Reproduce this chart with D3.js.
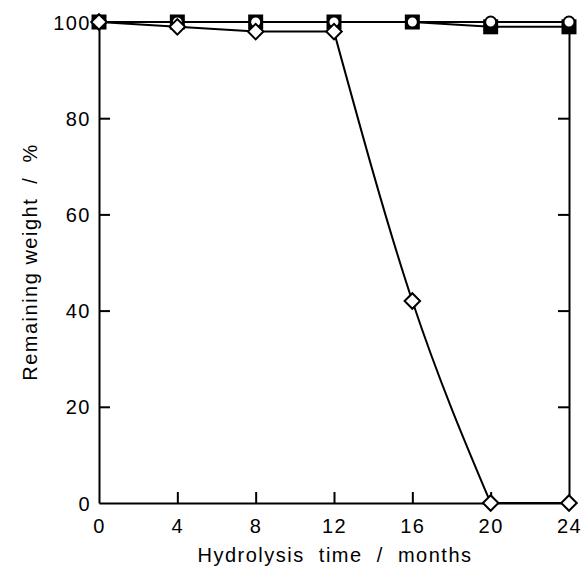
<!DOCTYPE html>
<html>
<head>
<meta charset="utf-8">
<script src="https://cdn.jsdelivr.net/npm/d3@7"></script>
<style>
  body { margin: 0; background: #fff; }
  text { font-family: "Liberation Sans", Arial, sans-serif; fill: #000; }
</style>
</head>
<body>
<script>
// chart data
var months = [0, 4, 8, 12, 16, 20, 24];
var squareValues = [100, 100, 100, 100, 100, 99, 99];
var circleValues = [100, 100, 100, 100, 100, 100, 100];
var diamondValues = [100, 99, 98, 98, 42, 0, 0];
var xTicks = [0, 4, 8, 12, 16, 20, 24];
var yTicks = [0, 20, 40, 60, 80, 100];

var width = 584;
var height = 578;
var plotLeft = 99, plotRight = 569, plotTop = 22, plotBottom = 503;

var svg = d3.select("body")
            .append("svg")
            .attr("width", width)
            .attr("height", height);

var x = d3.scaleLinear().domain([0, 24]).range([plotLeft, plotRight]);
var y = d3.scaleLinear().domain([0, 100]).range([plotBottom, plotTop]);

// axes, ticks point inward
var xAxis = d3.axisBottom(x).tickValues(xTicks).tickSize(-11).tickSizeOuter(0);
var yAxis = d3.axisLeft(y).tickValues(yTicks).tickSize(-11).tickSizeOuter(0);
var yAxisRight = d3.axisRight(y).tickValues(yTicks).tickSize(-11).tickSizeOuter(0).tickFormat("");

var gx = svg.append("g")
   .attr("transform", "translate(0," + plotBottom + ")")
   .call(xAxis);
var gy = svg.append("g")
   .attr("transform", "translate(" + plotLeft + ",0)")
   .call(yAxis);
var gr = svg.append("g")
   .attr("transform", "translate(" + plotRight + ",0)")
   .call(yAxisRight);

[gx, gy, gr].forEach(function(g) {
  g.select(".domain").attr("stroke", "#000").attr("stroke-width", 2);
  g.selectAll(".tick line").attr("stroke", "#000").attr("stroke-width", 2);
  g.selectAll(".tick text")
   .style("font-size", "20px")
   .style("letter-spacing", "1.5px")
   .style("font-family", "'Liberation Sans', Arial, sans-serif");
});
// hide end ticks that sit on the frame
gx.selectAll(".tick").filter(function(d) { return d == 0 || d == 24; }).select("line").remove();
gy.selectAll(".tick").filter(function(d) { return d == 0 || d == 100; }).select("line").remove();
gr.selectAll(".tick").filter(function(d) { return d == 0 || d == 100; }).select("line").remove();
gx.selectAll(".tick text").attr("y", 30).attr("dy", "0").attr("x", 0);
gy.selectAll(".tick text").attr("x", -8).attr("dy", "0.35em");

// axis titles
svg.append("text")
   .attr("text-anchor", "middle")
   .attr("transform", "translate(335,562)")
   .style("font-size", "20px")
   .style("letter-spacing", "1.5px")
   .style("white-space", "pre")
   .attr("xml:space", "preserve")
   .text("Hydrolysis  time  /  months");

svg.append("text")
   .attr("text-anchor", "middle")
   .attr("transform", "translate(37,262)rotate(-90)")
   .style("font-size", "20px")
   .style("letter-spacing", "1.5px")
   .style("white-space", "pre")
   .attr("xml:space", "preserve")
   .text("Remaining weight  /  %");

function points(values) {
  return months.map(function(m, i) { return [m, values[i]]; });
}

var straight = d3.line()
                 .x(function(d) { return x(d[0]); })
                 .y(function(d) { return y(d[1]); });
var smooth = d3.line()
               .curve(d3.curveNatural)
               .x(function(d) { return x(d[0]); })
               .y(function(d) { return y(d[1]); });

function addLine(d) {
  svg.append("path")
     .attr("d", d)
     .attr("fill", "none")
     .attr("stroke", "#000")
     .attr("stroke-width", 2)
     .attr("stroke-linejoin", "round");
}

// lines
addLine(straight(points(squareValues)));
addLine(straight(points(circleValues)));
// diamond series: flat part, smooth drop, flat part
var dp = points(diamondValues);
addLine(straight(dp.slice(0, 4)));
addLine(smooth(dp.slice(3, 6)));
addLine(straight(dp.slice(5)));

// filled squares
svg.selectAll("rect.sq")
   .data(points(squareValues))
   .enter()
   .append("rect")
   .attr("class", "sq")
   .attr("x", function(d) { return x(d[0]) - 7.5; })
   .attr("y", function(d) { return y(d[1]) - 7.5; })
   .attr("width", 15)
   .attr("height", 15)
   .attr("fill", "#000");

// open circles
svg.selectAll("circle.ci")
   .data(points(circleValues))
   .enter()
   .append("circle")
   .attr("class", "ci")
   .attr("cx", function(d) { return x(d[0]); })
   .attr("cy", function(d) { return y(d[1]); })
   .attr("r", 5.5)
   .attr("fill", "#fff")
   .attr("stroke", "#000")
   .attr("stroke-width", 2);

// open diamonds
var diamond = d3.symbol().type(d3.symbolSquare).size(120);
svg.selectAll("path.di")
   .data(dp)
   .enter()
   .append("path")
   .attr("class", "di")
   .attr("d", diamond)
   .attr("transform", function(d) {
     return "translate(" + x(d[0]) + "," + y(d[1]) + ")rotate(45)";
   })
   .attr("fill", "#fff")
   .attr("stroke", "#000")
   .attr("stroke-width", 2);
</script>
</body>
</html>
